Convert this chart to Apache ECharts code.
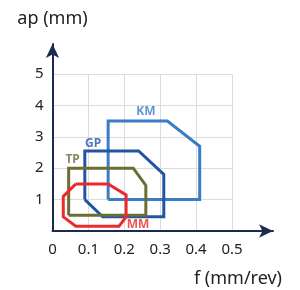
<!DOCTYPE html>
<html>
<head>
<meta charset="utf-8">
<script src="https://cdn.jsdelivr.net/npm/echarts@6/dist/echarts.min.js"></script>
<style>
html,body{margin:0;padding:0;background:#fff}
#main{width:300px;height:290px}
</style>
</head>
<body>
<div id="main"></div>
<script>
// 加工范围多边形 (f, ap)
var KM = [[0.155,1.0],[0.155,3.5],[0.32,3.5],[0.41,2.7],[0.41,1.0],[0.155,1.0]]
var GP = [[0.09,1.0],[0.09,2.55],[0.24,2.55],[0.31,1.8],[0.31,0.45],[0.14,0.45],[0.09,1.0]]
var TP = [[0.045,0.5],[0.045,2.0],[0.225,2.0],[0.26,1.45],[0.26,0.5],[0.045,0.5]]
var MM = [[0.065,1.5],[0.155,1.5],[0.205,1.15],[0.205,0.45],[0.185,0.15],[0.065,0.15],[0.03,0.45],[0.03,1.1],[0.065,1.5]]
var names = ['KM','GP','TP','MM']
var colors = ['#3a7cc6','#2254a6','#6b6d33','#ec2a2b']
var labelAt = [[0.26,3.8],[0.113,2.8],[0.056,2.27],[0.238,0.2]]
var xTicks = [0,0.1,0.2,0.3,0.4,0.5]
var yTicks = [0,1,2,3,4,5]

var chart = echarts.init(document.getElementById('main'))
var axisColor = '#1b2b4f'
var font = 'Noto Sans'

var polys = [KM,GP,TP,MM]
var series = []
polys.forEach(function(p,i){
	series.push({
		name: names[i],
		type: 'line',
		data: p,
		symbol: 'none',
		lineStyle: { color: colors[i], width: 3, join: 'miter' },
		z: 3 + (i==3 ? 1 : 0)
	})
	series.push({
		type: 'scatter',
		data: [labelAt[i]],
		symbolSize: 0,
		silent: true,
		label: {
			show: true,
			position: 'inside',
			formatter: names[i],
			color: colors[i],
			fontWeight: 'bold',
			fontSize: 12,
			fontFamily: font
		}
	})
})

var option = {
	animation: false,
	grid: [
		{ left: 52.5, right: 68, top: 74, bottom: 59 },
		{ left: 52.5, right: 27, top: 44, bottom: 59 }
	],
	xAxis: [
		{
			type: 'value', gridIndex: 0, min: xTicks[0], max: xTicks[xTicks.length-1], interval: 0.1,
			axisLine: { show: false }, axisTick: { show: false },
			axisLabel: { color: '#222', fontSize: 15, fontFamily: font, margin: 11,
				formatter: function(v){ return xTicks.indexOf(Math.round(v*10)/10) >= 0 ? String(Math.round(v*10)/10) : '' } },
			splitLine: { show: true, lineStyle: { color: '#dcdcdc', width: 1 } }
		},
		{
			type: 'value', gridIndex: 1, min: 0, max: 1,
			axisLine: { show: true, lineStyle: { color: axisColor, width: 2 }, symbol: ['none','arrow'], symbolSize: [10,14] },
			axisTick: { show: false }, axisLabel: { show: false }, splitLine: { show: false },
			name: 'f (mm/rev)', nameLocation: 'end', nameGap: 9,
			nameTextStyle: { color: '#222', fontSize: 18, fontFamily: font, align: 'right', verticalAlign: 'top', padding: [39,0,0,0] }
		}
	],
	yAxis: [
		{
			type: 'value', gridIndex: 0, min: yTicks[0], max: yTicks[yTicks.length-1], interval: 1,
			axisLine: { show: false }, axisTick: { show: false },
			axisLabel: { color: '#222', fontSize: 15, fontFamily: font, margin: 9,
				formatter: function(v){ return v == 0 ? '' : v } },
			splitLine: { show: true, lineStyle: { color: '#dcdcdc', width: 1 } }
		},
		{
			type: 'value', gridIndex: 1, min: 0, max: 1,
			axisLine: { show: true, lineStyle: { color: axisColor, width: 2 }, symbol: ['none','arrow'], symbolSize: [10,14] },
			axisTick: { show: false }, axisLabel: { show: false }, splitLine: { show: false },
			name: 'ap (mm)', nameLocation: 'end', nameGap: 16,
			nameTextStyle: { color: '#222', fontSize: 18, fontFamily: font, align: 'center' }
		}
	],
	series: series
}
chart.setOption(option)
</script>
</body>
</html>
